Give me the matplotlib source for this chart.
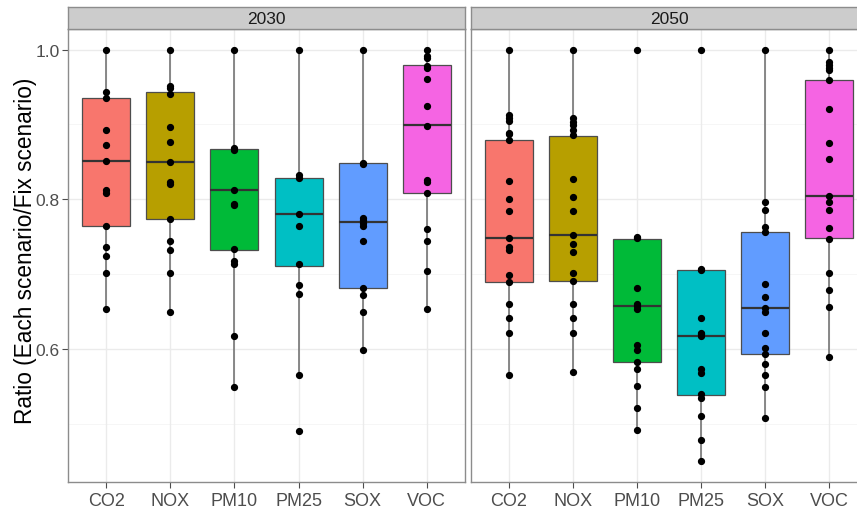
import numpy as np
import matplotlib
matplotlib.use('Agg')
import matplotlib.pyplot as plt

plt.rcParams['font.family'] = ['Liberation Sans', 'DejaVu Sans']

categories = ['CO2', 'NOX', 'PM10', 'PM25', 'SOX', 'VOC']
years = ['2030', '2050']
colors = ['#F8766D', '#B79F00', '#00BA38', '#00BFC4', '#619CFF', '#F564E3']

# individual scenario ratios, one list per pollutant
points_2030 = [
    [1.0, 0.943, 0.935, 0.893, 0.873, 0.851, 0.813, 0.809, 0.765, 0.736, 0.725, 0.702, 0.654],
    [1.0, 0.952, 0.949, 0.941, 0.897, 0.876, 0.850, 0.823, 0.820, 0.774, 0.744, 0.733, 0.701, 0.650],
    [1.0, 0.868, 0.866, 0.812, 0.794, 0.792, 0.734, 0.718, 0.714, 0.618, 0.549],
    [1.0, 0.832, 0.829, 0.780, 0.764, 0.713, 0.685, 0.673, 0.565, 0.490],
    [1.0, 0.849, 0.847, 0.775, 0.772, 0.769, 0.764, 0.744, 0.682, 0.672, 0.649, 0.599],
    [1.0, 0.992, 0.989, 0.978, 0.975, 0.961, 0.924, 0.898, 0.826, 0.823, 0.809, 0.760, 0.744, 0.704, 0.654],
]
points_2050 = [
    [1.0, 0.912, 0.908, 0.904, 0.889, 0.887, 0.879, 0.825, 0.801, 0.784, 0.748, 0.736, 0.733,
     0.699, 0.690, 0.660, 0.642, 0.622, 0.566],
    [1.0, 0.908, 0.903, 0.899, 0.892, 0.886, 0.827, 0.803, 0.784, 0.752, 0.741, 0.730, 0.702,
     0.691, 0.660, 0.642, 0.621, 0.569],
    [1.0, 0.750, 0.748, 0.681, 0.660, 0.657, 0.654, 0.606, 0.599, 0.583, 0.574, 0.551, 0.521, 0.492],
    [1.0, 0.707, 0.705, 0.642, 0.622, 0.620, 0.617, 0.574, 0.568, 0.540, 0.535, 0.510, 0.478, 0.450],
    [1.0, 0.796, 0.786, 0.763, 0.756, 0.687, 0.669, 0.655, 0.650, 0.621, 0.602, 0.593, 0.580,
     0.566, 0.549, 0.508],
    [1.0, 0.984, 0.979, 0.976, 0.973, 0.960, 0.920, 0.875, 0.854, 0.805, 0.796, 0.786, 0.762,
     0.747, 0.702, 0.679, 0.656, 0.590],
]

# box statistics
q1_2030 = [0.765, 0.774, 0.733, 0.711, 0.682, 0.809]
med_2030 = [0.851, 0.850, 0.812, 0.780, 0.770, 0.899]
q3_2030 = [0.935, 0.944, 0.867, 0.829, 0.848, 0.979]
lo_2030 = [0.654, 0.650, 0.549, 0.565, 0.599, 0.654]
hi_2030 = [1.0, 1.0, 1.0, 1.0, 1.0, 1.0]

q1_2050 = [0.689, 0.691, 0.583, 0.539, 0.593, 0.748]
med_2050 = [0.748, 0.753, 0.657, 0.618, 0.655, 0.805]
q3_2050 = [0.879, 0.885, 0.747, 0.705, 0.756, 0.960]
lo_2050 = [0.566, 0.569, 0.492, 0.450, 0.508, 0.590]
hi_2050 = [1.0, 1.0, 0.750, 0.707, 1.0, 1.0]

panels = [
    (years[0], points_2030, q1_2030, med_2030, q3_2030, lo_2030, hi_2030),
    (years[1], points_2050, q1_2050, med_2050, q3_2050, lo_2050, hi_2050),
]

W, H = 857, 510
fig = plt.figure(figsize=(W / 100, H / 100), dpi=100)

# pixel layout: panels 30..483 vertically, strips 8..30
lefts = [68, 470.6]
pw = 397
top, bot, strip_top = 30, 483, 8

for k, (yr, pts, q1, med, q3, lo, hi) in enumerate(panels):
    ax = fig.add_axes([lefts[k] / W, (H - bot) / H, pw / W, (bot - top) / H])
    ax.set_facecolor('white')
    ax.set_xlim(0.4, 6.6)
    ax.set_ylim(0.4225, 1.0275)

    # grid
    for v in [0.5, 0.7, 0.9]:
        ax.axhline(v, color='#F5F5F5', lw=0.6, zorder=0)
    for v in [0.6, 0.8, 1.0]:
        ax.axhline(v, color='#EBEBEB', lw=1.0, zorder=0)
    for i in range(len(categories)):
        ax.axvline(i + 1, color='#EBEBEB', lw=1.0, zorder=0)

    stats = [dict(q1=q1[i], med=med[i], q3=q3[i], whislo=lo[i], whishi=hi[i], fliers=[])
             for i in range(len(categories))]
    bp = ax.bxp(stats, positions=np.arange(1, 7), widths=0.75, patch_artist=True,
                showcaps=False, showfliers=False, manage_ticks=False,
                boxprops=dict(edgecolor='#4D4D4D', linewidth=0.9),
                whiskerprops=dict(color='#6A6A6A', linewidth=1.1),
                medianprops=dict(color='#333333', linewidth=1.6))
    for patch, c in zip(bp['boxes'], colors):
        patch.set_facecolor(c)
        patch.set_zorder(2)

    for i, vals in enumerate(pts):
        ax.plot(np.full(len(vals), i + 1), vals, 'o', color='black', ms=4.2, mec='black', zorder=5)

    ax.set_xticks(np.arange(1, 7))
    ax.set_xticklabels(categories, fontsize=13, color='#4D4D4D')
    ax.set_yticks([0.6, 0.8, 1.0])
    if k == 0:
        ax.set_yticklabels(['0.6', '0.8', '1.0'], fontsize=12.5, color='#4D4D4D')
        ax.set_ylabel('Ratio (Each scenario/Fix scenario)', fontsize=16.3)
        ax.yaxis.set_label_coords(-0.078, 0.512)
        ax.tick_params(axis='y', length=4, width=0.8, color='#4D4D4D', pad=2)
    else:
        ax.tick_params(axis='y', left=False, labelleft=False)
    ax.tick_params(axis='x', length=4, width=0.8, color='#4D4D4D', pad=3)
    for s in ax.spines.values():
        s.set_color('#8C8C8C')
        s.set_linewidth(1.0)

    sax = fig.add_axes([lefts[k] / W, (H - top) / H, pw / W, (top - strip_top) / H])
    sax.set_facecolor('#CCCCCC')
    sax.set_xticks([])
    sax.set_yticks([])
    for s in sax.spines.values():
        s.set_color('#8C8C8C')
        s.set_linewidth(1.0)
    sax.text(0.5, 0.5, yr, ha='center', va='center', fontsize=12.5, color='#1A1A1A',
             transform=sax.transAxes)

fig.savefig('out.png', dpi=100)
